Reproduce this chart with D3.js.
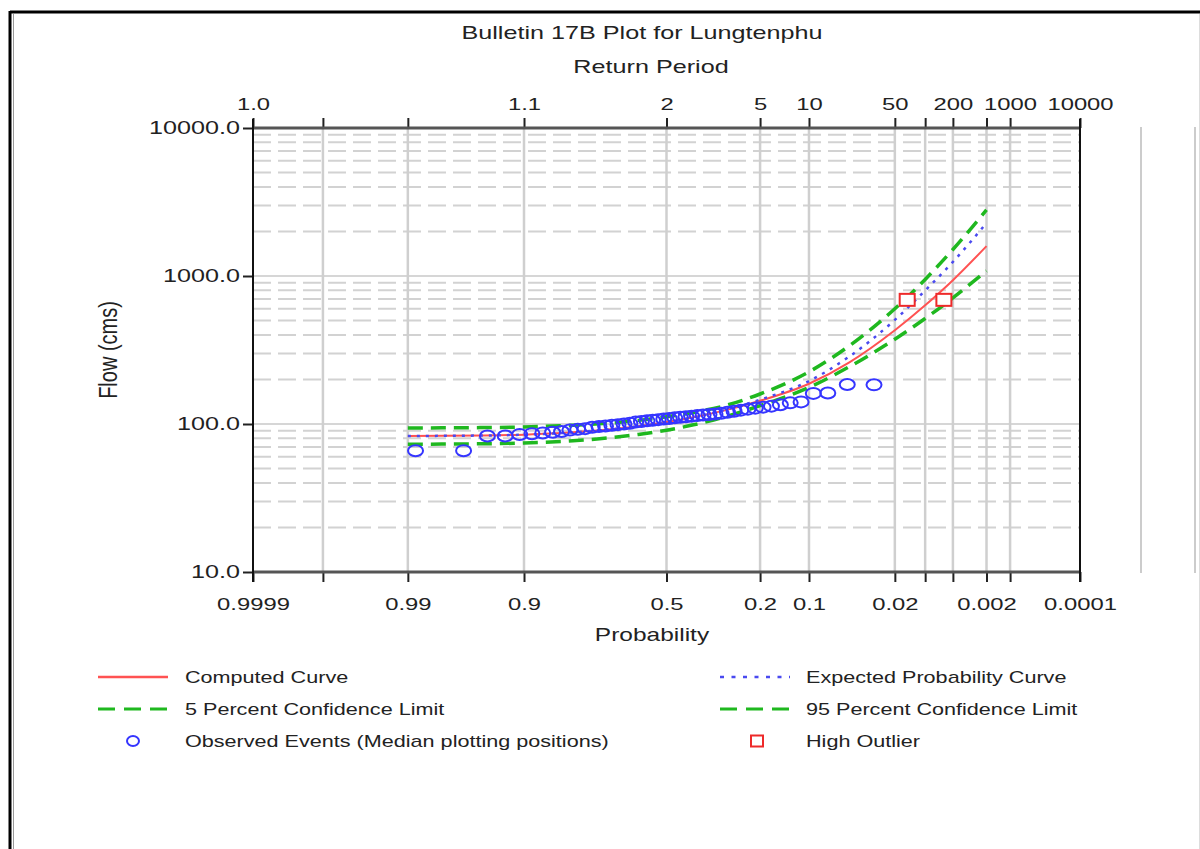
<!DOCTYPE html>
<html>
<head>
<meta charset="utf-8">
<script src="https://cdn.jsdelivr.net/npm/d3@7"></script>
<style>
  body { margin: 0; background: #fff; }
  svg { display: block; font-family: "Liberation Sans", Arial, sans-serif; }
</style>
</head>
<body>
<svg id="chart" width="1200" height="849"></svg>
<script>
// Frequency curves (exceedance probability -> flow, cms)
const curveProb = [0.99, 0.95, 0.9, 0.8, 0.7, 0.6, 0.5, 0.4, 0.3, 0.2, 0.1, 0.05, 0.02, 0.01, 0.005, 0.002];
const computedFlow = [83, 83.6, 84.7, 87.8, 91.7, 96.7, 103, 111.5, 123.6, 143.5, 187, 261, 430, 634, 937, 1592];
const expectedFlow = [83, 83.6, 84.7, 87.8, 91.7, 96.7, 103, 111.5, 124.5, 146, 195, 286, 505, 798, 1245, 2280];
const conf5Flow = [94, 94.6, 95.5, 98, 101.3, 105.8, 111.8, 120.2, 132.9, 159.5, 225, 338, 601, 948, 1510, 2800];
const conf95Flow = [73, 73.5, 74.4, 77.1, 80.5, 85, 90.8, 99.1, 111.6, 133, 176.6, 244, 374, 516, 711, 1084];

// Observed events (median plotting positions)
const obsProb = [0.031, 0.052, 0.0734, 0.0933, 0.1131, 0.1329, 0.1528, 0.1726, 0.1925, 0.2123,
  0.2321, 0.2520, 0.2718, 0.2917, 0.3115, 0.3313, 0.3512, 0.3710, 0.3909, 0.4107,
  0.4306, 0.4504, 0.4702, 0.4901, 0.5099, 0.5298, 0.5496, 0.5694, 0.5893, 0.6091,
  0.6290, 0.6488, 0.6687, 0.6885, 0.7083, 0.7282, 0.7480, 0.7679, 0.7877, 0.8075,
  0.8274, 0.8472, 0.8671, 0.8869, 0.9067, 0.9266, 0.9464, 0.966, 0.988];
const obsFlow = [184, 185, 162, 161, 141, 139, 135, 132, 130, 128,
  126, 124, 122, 120, 118, 117, 116, 115, 114, 113,
  112, 111, 110, 109, 108, 107, 106, 105, 104, 103,
  101, 100, 99, 98, 97, 96, 95, 93, 92, 91,
  89, 88, 87, 86, 85, 83, 83, 66, 66];

// High outliers
const outlierProb = [0.0152, 0.0063];
const outlierFlow = [690, 690];

// Axis ticks
const probTicks = [0.9999, 0.999, 0.99, 0.9, 0.5, 0.2, 0.1, 0.02, 0.01, 0.005, 0.002, 0.001, 0.0001];
const probLabels = ['0.9999', '', '0.99', '0.9', '0.5', '0.2', '0.1', '0.02', '', '', '0.002', '', '0.0001'];
const returnLabels = ['1.0', '', '', '1.1', '2', '5', '10', '50', '', '200', '', '1000', '10000'];
const flowTicks = [10, 100, 1000, 10000];

const SX = 1.4; // the picture is stretched sideways, text too

// inverse standard normal (Acklam)
function probit(p) {
    const a = [-39.69683028665376, 220.9460984245205, -275.9285104469687, 138.3577518672690, -30.66479806614716, 2.506628277459239];
    const b = [-54.47609879822406, 161.5858368580409, -155.6989798598866, 66.80131188771972, -13.28068155288572];
    const c = [-0.007784894002430293, -0.3223964580411365, -2.400758277161838, -2.549732539343734, 4.374664141464968, 2.938163982698783];
    const d = [0.007784695709041462, 0.3224671290700398, 2.445134137142996, 3.754408661907416];
    const pl = 0.02425;
    let q, r;
    if (p < pl) {
        q = Math.sqrt(-2 * Math.log(p));
        return (((((c[0]*q+c[1])*q+c[2])*q+c[3])*q+c[4])*q+c[5]) / ((((d[0]*q+d[1])*q+d[2])*q+d[3])*q+1);
    }
    if (p > 1 - pl) {
        q = Math.sqrt(-2 * Math.log(1 - p));
        return -(((((c[0]*q+c[1])*q+c[2])*q+c[3])*q+c[4])*q+c[5]) / ((((d[0]*q+d[1])*q+d[2])*q+d[3])*q+1);
    }
    q = p - 0.5; r = q * q;
    return (((((a[0]*r+a[1])*r+a[2])*r+a[3])*r+a[4])*r+a[5])*q / (((((b[0]*r+b[1])*r+b[2])*r+b[3])*r+b[4])*r+1);
}
const zOf = p => probit(1 - p);

const svg = d3.select('#chart');
const plotL = 253, plotR = 1080, plotT = 128, plotB = 572;

const x = d3.scaleLinear().domain([zOf(0.9999), zOf(0.0001)]).range([plotL, plotR]);
const y = d3.scaleLog().domain([10, 10000]).range([plotB, plotT]);

function label(g, tx, ty, str, size, anchor, sx) {
    return g.append('text')
        .attr('transform', `translate(${tx},${ty}) scale(${sx || SX},1)`)
        .attr('text-anchor', anchor || 'middle')
        .attr('font-size', size)
        .attr('fill', '#222')
        .text(str);
}

// outer frame
svg.append('line').attr('x1', 10).attr('x2', 1200).attr('y1', 12).attr('y2', 12).attr('stroke', '#000').attr('stroke-width', 3);
svg.append('line').attr('x1', 10).attr('x2', 10).attr('y1', 11).attr('y2', 849).attr('stroke', '#000').attr('stroke-width', 3);
svg.append('line').attr('x1', 13.5).attr('x2', 13.5).attr('y1', 14).attr('y2', 849).attr('stroke', '#999').attr('stroke-width', 1);
svg.append('line').attr('x1', 1199.5).attr('x2', 1199.5).attr('y1', 14).attr('y2', 849).attr('stroke', '#ddd').attr('stroke-width', 1);
[1141, 1195].forEach(px => {
    svg.append('line').attr('x1', px).attr('x2', px).attr('y1', 127).attr('y2', 573)
        .attr('stroke', '#ccc').attr('stroke-width', 2);
});

// titles
label(svg, 642, 39, 'Bulletin 17B Plot for Lungtenphu', 18);
label(svg, 651, 73, 'Return Period', 18);
label(svg, 652, 641, 'Probability', 17.5);
svg.append('text')
    .attr('transform', 'translate(117,350) scale(1.25,1) rotate(-90)')
    .attr('text-anchor', 'middle').attr('font-size', 20).attr('fill', '#222')
    .text('Flow (cms)');

// grid
const grid = svg.append('g');
[10, 100, 1000].forEach(dec => {
    d3.range(2, 10).forEach(m => {
        grid.append('line')
            .attr('x1', plotL).attr('x2', plotR)
            .attr('y1', y(dec * m)).attr('y2', y(dec * m))
            .attr('stroke', '#d2d2d2').attr('stroke-width', 2)
            .attr('stroke-dasharray', '18,7');
    });
});
[100, 1000].forEach(v => {
    grid.append('line').attr('x1', plotL).attr('x2', plotR)
        .attr('y1', y(v)).attr('y2', y(v))
        .attr('stroke', '#c8c8c8').attr('stroke-width', 1.5);
});
probTicks.slice(1, -1).forEach(p => {
    grid.append('line').attr('x1', x(zOf(p))).attr('x2', x(zOf(p)))
        .attr('y1', plotT).attr('y2', plotB)
        .attr('stroke', '#cfcfcf').attr('stroke-width', 2.5);
});

// curves
const curveLine = vals => d3.line()
    .x((d, i) => x(zOf(curveProb[i])))
    .y(d => y(d))
    .curve(d3.curveMonotoneX)(vals);

svg.append('path').attr('d', curveLine(conf5Flow)).attr('fill', 'none')
    .attr('stroke', '#1fb81f').attr('stroke-width', 3.5).attr('stroke-dasharray', '15,8');
svg.append('path').attr('d', curveLine(conf95Flow)).attr('fill', 'none')
    .attr('stroke', '#1fb81f').attr('stroke-width', 3.5).attr('stroke-dasharray', '15,8');
svg.append('path').attr('d', curveLine(computedFlow)).attr('fill', 'none')
    .attr('stroke', '#ff5252').attr('stroke-width', 2);
svg.append('path').attr('d', curveLine(expectedFlow)).attr('fill', 'none')
    .attr('stroke', '#4a4af0').attr('stroke-width', 2.5).attr('stroke-dasharray', '3,6');

// observed events
svg.append('g').selectAll('ellipse')
    .data(obsProb)
    .enter()
    .append('ellipse')
    .attr('cx', p => x(zOf(p)))
    .attr('cy', (p, i) => y(obsFlow[i]))
    .attr('rx', 7.5).attr('ry', 5.5)
    .attr('fill', 'none').attr('stroke', '#3535ff').attr('stroke-width', 2);

// high outliers
svg.append('g').selectAll('rect')
    .data(outlierProb)
    .enter()
    .append('rect')
    .attr('x', p => x(zOf(p)) - 7.5)
    .attr('y', (p, i) => y(outlierFlow[i]) - 6)
    .attr('width', 15).attr('height', 12)
    .attr('fill', '#fff').attr('stroke', '#ee2a2a').attr('stroke-width', 2);

// axes
const font = '"Liberation Sans", Arial, sans-serif';
function styleAxis(g) {
    g.select('.domain').remove();
    g.attr('font-family', font).attr('font-size', 17);
    g.selectAll('.tick line').attr('stroke', '#222').attr('stroke-width', 2);
    g.selectAll('.tick text').attr('fill', '#222');
}

const bottomAxis = svg.append('g').attr('transform', `translate(0,${plotB})`)
    .call(d3.axisBottom(x).tickValues(probTicks.map(zOf))
        .tickFormat((d, i) => probLabels[i]).tickSize(10).tickPadding(16).tickSizeOuter(0));
styleAxis(bottomAxis);
bottomAxis.selectAll('.tick text').attr('transform', `scale(${SX},1)`);

const topAxis = svg.append('g').attr('transform', `translate(0,${plotT})`)
    .call(d3.axisTop(x).tickValues(probTicks.map(zOf))
        .tickFormat((d, i) => returnLabels[i]).tickSize(10).tickPadding(8).tickSizeOuter(0));
styleAxis(topAxis);
topAxis.selectAll('.tick text').attr('transform', `scale(${SX},1)`);

const leftAxis = svg.append('g').attr('transform', `translate(${plotL},0)`)
    .call(d3.axisLeft(y).tickValues(flowTicks).tickFormat(d3.format('.1f')).tickSize(10).tickSizeOuter(0));
styleAxis(leftAxis);
leftAxis.attr('font-size', 18);
leftAxis.selectAll('.tick text').attr('transform', `scale(${SX},1)`).attr('x', -13 / SX);

// axis lines
svg.append('line').attr('x1', plotL).attr('x2', plotR).attr('y1', plotT).attr('y2', plotT)
    .attr('stroke', '#555').attr('stroke-width', 3);
svg.append('line').attr('x1', plotL).attr('x2', plotR).attr('y1', plotB).attr('y2', plotB)
    .attr('stroke', '#555').attr('stroke-width', 3);
svg.append('line').attr('x1', plotL).attr('x2', plotL).attr('y1', plotT - 9).attr('y2', plotB + 10)
    .attr('stroke', '#111').attr('stroke-width', 2);
svg.append('line').attr('x1', plotR).attr('x2', plotR).attr('y1', plotT - 9).attr('y2', plotB + 10)
    .attr('stroke', '#111').attr('stroke-width', 2);

// legend
const legend = svg.append('g');
const rowY = [677, 709, 741];
legend.append('line').attr('x1', 98).attr('x2', 168).attr('y1', rowY[0]).attr('y2', rowY[0])
    .attr('stroke', '#ff5252').attr('stroke-width', 2.5);
legend.append('line').attr('x1', 720).attr('x2', 790).attr('y1', rowY[0]).attr('y2', rowY[0])
    .attr('stroke', '#4a4af0').attr('stroke-width', 2.5).attr('stroke-dasharray', '4,7.5');
legend.append('line').attr('x1', 98).attr('x2', 168).attr('y1', rowY[1]).attr('y2', rowY[1])
    .attr('stroke', '#1fb81f').attr('stroke-width', 3).attr('stroke-dasharray', '17,9');
legend.append('line').attr('x1', 720).attr('x2', 790).attr('y1', rowY[1]).attr('y2', rowY[1])
    .attr('stroke', '#1fb81f').attr('stroke-width', 3).attr('stroke-dasharray', '17,9');
legend.append('ellipse').attr('cx', 133).attr('cy', rowY[2]).attr('rx', 6).attr('ry', 5)
    .attr('fill', 'none').attr('stroke', '#3535ff').attr('stroke-width', 2);
legend.append('rect').attr('x', 751).attr('y', rowY[2] - 5.5).attr('width', 12).attr('height', 11)
    .attr('fill', '#fff').attr('stroke', '#ee2a2a').attr('stroke-width', 2);

const legendText = [
    ['Computed Curve', 'Expected Probability Curve'],
    ['5 Percent Confidence Limit', '95 Percent Confidence Limit'],
    ['Observed Events (Median plotting positions)', 'High Outlier']
];
legendText.forEach((row, r) => {
    label(legend, 185, rowY[r] + 6, row[0], 16, 'start', 1.35);
    label(legend, 806, rowY[r] + 6, row[1], 16, 'start', 1.35);
});
</script>
</body>
</html>
